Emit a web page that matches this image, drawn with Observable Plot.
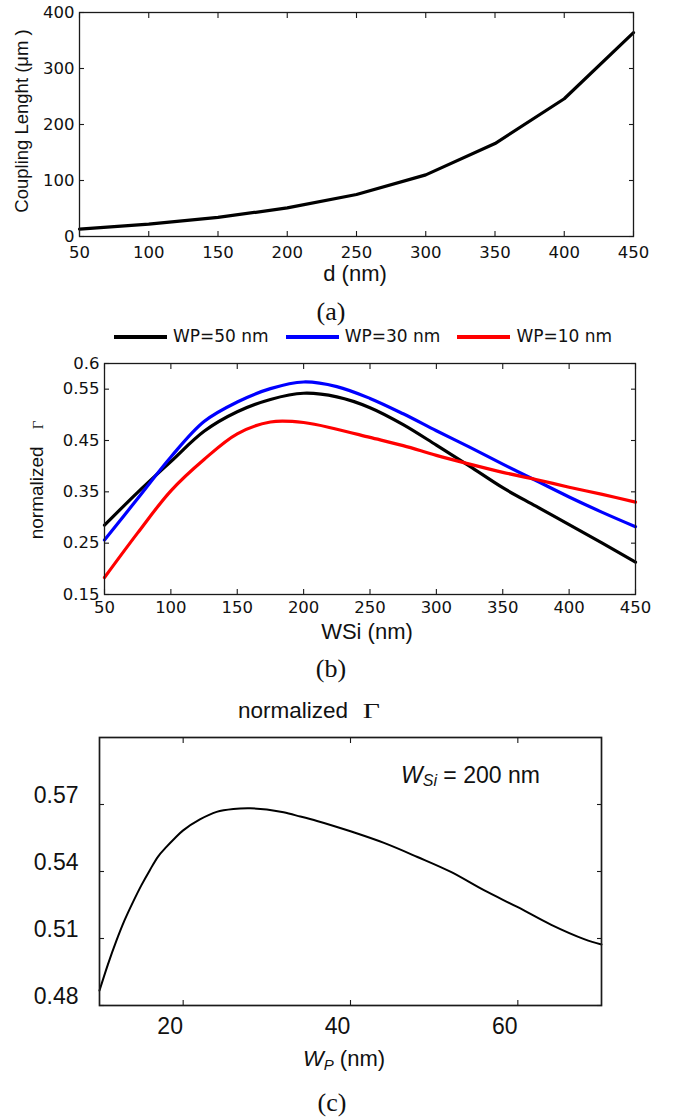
<!DOCTYPE html>
<html><head><meta charset="utf-8">
<script src="https://cdn.jsdelivr.net/npm/d3@7"></script>
<script src="https://cdn.jsdelivr.net/npm/@observablehq/plot@0.6"></script>
<style>
body{margin:0;background:#fff;}
#root{position:relative;width:673px;height:1119px;overflow:hidden;background:#fff;color:#111;}
.abs{position:absolute;white-space:nowrap;line-height:1;}
.c{transform:translate(-50%,-50%);}
.rot{transform:translate(-50%,-50%) rotate(-90deg);}
.dv{font-family:"DejaVu Sans",sans-serif;}
.ar{font-family:"Liberation Sans",Arial,sans-serif;}
.sf{font-family:"Liberation Serif","Times New Roman",serif;}
.lg{display:flex;align-items:center;}
.sw{display:inline-block;width:53px;height:4px;margin-right:6px;}
</style></head><body><div id="root"></div>
<script>
// ---------- Panel (a) data ----------
const dNm = [50, 100, 150, 200, 250, 300, 350, 400, 450];
const couplingLength = [13, 22, 34, 51, 75, 110, 166, 246, 364];
const xTicksA = [50, 100, 150, 200, 250, 300, 350, 400, 450];
const yTicksA = [0, 100, 200, 300, 400];

// ---------- Panel (b) data ----------
const wSi = [50, 75, 100, 125, 150, 175, 200, 225, 250, 275, 300, 325, 350, 375, 400, 425, 450];
const gammaWP50 = [0.285, 0.349, 0.409, 0.468, 0.506, 0.530, 0.542, 0.535, 0.514, 0.481, 0.441, 0.400, 0.358, 0.322, 0.286, 0.250, 0.213];
const gammaWP30 = [0.256, 0.337, 0.418, 0.487, 0.525, 0.551, 0.564, 0.555, 0.532, 0.502, 0.469, 0.437, 0.404, 0.372, 0.340, 0.310, 0.282];
const gammaWP10 = [0.183, 0.270, 0.352, 0.413, 0.463, 0.486, 0.485, 0.472, 0.456, 0.440, 0.421, 0.404, 0.388, 0.374, 0.359, 0.345, 0.330];
const seriesNames = ["WP=50 nm", "WP=30 nm", "WP=10 nm"];
const seriesColors = ["#000000", "#0000ff", "#ff0000"];
const xTicksB = [50, 100, 150, 200, 250, 300, 350, 400, 450];
const yTicksB = [0.15, 0.25, 0.35, 0.45, 0.55, 0.6];

// ---------- Panel (c) data ----------
const wP = [10, 11, 12, 13, 14, 15, 16, 17, 18, 19, 20, 22, 24, 26, 28, 30, 32, 34, 36, 38, 40, 44, 48, 52, 56, 60, 64, 68, 70];
const gammaWSi200 = [0.4867, 0.4983, 0.5088, 0.5182, 0.5263, 0.5338, 0.5405, 0.5467, 0.5510, 0.5549, 0.5584, 0.5633, 0.5667, 0.5680, 0.5683, 0.5678, 0.5665, 0.5646, 0.5626, 0.5604, 0.5580, 0.5528, 0.5465, 0.5398, 0.5315, 0.5240, 0.5161, 0.5096, 0.5073];
const xTicksC = [20, 40, 60];
const yTicksC = [0.48, 0.51, 0.54, 0.57];

const root = document.getElementById("root");
function place(el, top) {
  el.style.position = "absolute"; el.style.left = "0px"; el.style.top = top + "px";
  root.appendChild(el);
}
function txt(html, cls, x, y, fs) {
  const d = document.createElement("div");
  d.className = "abs " + cls;
  d.style.left = x + "px"; d.style.top = y + "px"; d.style.fontSize = fs + "px";
  d.innerHTML = html;
  root.appendChild(d);
  return d;
}
function frameMarks(xt, yt, sw) {
  const tk = {tickSize: 5, fill: "none", stroke: "#1a1a1a", strokeWidth: 1.1};
  return [
    Plot.frame({stroke: "#1a1a1a", strokeWidth: sw}),
    Plot.axisX(xt, {...tk, anchor: "bottom", dy: -5}),
    Plot.axisX(xt, {...tk, anchor: "top", dy: 5}),
    Plot.axisY(yt, {...tk, anchor: "left", dx: 5}),
    Plot.axisY(yt, {...tk, anchor: "right", dx: -5})
  ];
}
function labelAxes(xt, yt, xPad, yPad, xdx, ydy) {
  return [
    Plot.axisX(xt, {anchor: "bottom", tickSize: 0, tickPadding: xPad, dx: xdx, label: null, tickFormat: d => String(d), fill: "#111"}),
    Plot.axisY(yt, {anchor: "left", tickSize: 0, tickPadding: yPad, dy: ydy, label: null, tickFormat: d => String(d), fill: "#111"})
  ];
}

// ---------- Panel (a) ----------
const tableA = dNm.map((d, i) => ({d, L: couplingLength[i]}));
const svgA = Plot.plot({
  width: 673, height: 290,
  marginLeft: 79, marginRight: 40, marginTop: 12, marginBottom: 54,
  x: {domain: [50, 450]}, y: {domain: [0, 400]},
  style: {fontFamily: "DejaVu Sans", fontSize: "16.5px", color: "#111", background: "transparent"},
  marks: [
    Plot.line(tableA, {x: "d", y: "L", stroke: "#000", strokeWidth: 3.2, strokeLinejoin: "round"}),
    ...frameMarks(xTicksA, yTicksA, 1.3),
    ...labelAxes(xTicksA, yTicksA, 9.5, 5, 0, 0)
  ]
});
place(svgA, 0);

// ---------- Panel (b) ----------
const seriesB = [gammaWP50, gammaWP30, gammaWP10];
const tableB = seriesB.flatMap((s, k) => wSi.map((w, i) => ({w, g: s[i], name: seriesNames[k]})));
const svgB = Plot.plot({
  width: 673, height: 300,
  marginLeft: 104, marginRight: 38, marginTop: 33, marginBottom: 36,
  x: {domain: [50, 450]}, y: {domain: [0.15, 0.6]},
  color: {domain: seriesNames, range: seriesColors},
  style: {fontFamily: "DejaVu Sans", fontSize: "16.5px", color: "#111", background: "transparent"},
  marks: [
    Plot.line(tableB, {x: "w", y: "g", z: "name", stroke: "name", strokeWidth: 3.2, curve: "catmull-rom"}),
    ...frameMarks(xTicksB, yTicksB, 1.3),
    ...labelAxes(xTicksB, yTicksB, 7, 5, 0, 0)
  ]
});
place(svgB, 330);

// ---------- Panel (c) ----------
const tableC = wP.map((w, i) => ({w, g: gammaWSi200[i]}));
const svgC = Plot.plot({
  width: 673, height: 320,
  marginLeft: 99, marginRight: 72, marginTop: 12, marginBottom: 40,
  x: {domain: [10, 70]}, y: {domain: [0.48, 0.6]},
  style: {fontFamily: "Liberation Sans, Arial", fontSize: "23px", color: "#111", background: "transparent"},
  marks: [
    Plot.line(tableC, {x: "w", y: "g", stroke: "#000", strokeWidth: 2, curve: "catmull-rom"}),
    ...frameMarks(xTicksC, yTicksC, 1.7),
    ...labelAxes(xTicksC, yTicksC, 12, 21, -13, -8.5)
  ]
});
place(svgC, 725);

// ---------- Texts ----------
// (a)
txt("Coupling Lenght (μm )", "ar rot", 22, 121, 18.5);
txt("d (nm)", "ar c", 355, 274, 22);
txt("(a)", "sf c", 331, 312, 26);
// (b) legend
const lg = document.createElement("div");
lg.className = "abs lg dv";
lg.style.left = "114px"; lg.style.top = "328px"; lg.style.fontSize = "17px"; lg.style.gap = "17px";
seriesNames.forEach((n, k) => {
  const it = document.createElement("span");
  it.style.display = "inline-flex"; it.style.alignItems = "center";
  it.innerHTML = `<span class="sw" style="background:${seriesColors[k]}"></span><span>${n}</span>`;
  lg.appendChild(it);
});
root.appendChild(lg);
txt('normalized<span class="sf" style="font-size:15px;margin-left:17px">Γ</span>', "ar rot", 36, 480, 19);
txt("WSi (nm)", "ar c", 367, 632, 22);
txt("(b)", "sf c", 331, 669, 26);
// (c)
txt('normalized<span class="sf" style="display:inline-block;font-size:22px;margin-left:17px;transform:scaleX(1.35)">Γ</span>', "ar", 238, 700, 22.5);
txt('<i>W</i><i style="font-size:16px;position:relative;top:3px">Si</i> = 200 nm', "ar", 401, 763.5, 23);
txt('<i>W</i><i style="font-size:15px;position:relative;top:4px">P</i> (nm)', "ar c", 344, 1059, 22);
txt("(c)", "sf c", 332, 1103, 26);
</script></body></html>
